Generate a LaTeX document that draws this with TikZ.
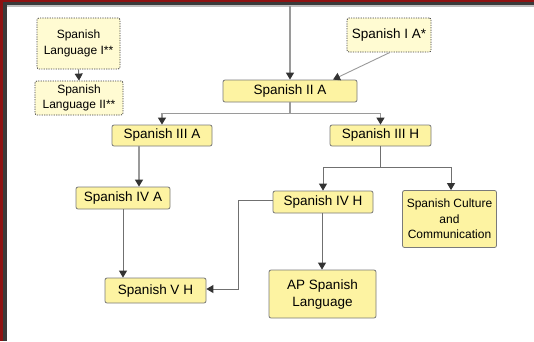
\documentclass[tikz,border=0pt]{standalone}
\usepackage{fontspec}
\setmainfont{Liberation Sans}
\usetikzlibrary{arrows.meta,calc}
\definecolor{frameRed}{HTML}{8E1212}
\definecolor{frameDark}{HTML}{3A3A3A}
\definecolor{boxFill}{HTML}{FDF3A2}
\definecolor{boxFillLight}{HTML}{FFFBD2}
\definecolor{boxEdge}{HTML}{7A7A7A}
\definecolor{lineGray}{HTML}{9A9A9A}
\definecolor{lineDark}{HTML}{707070}
\definecolor{tipDark}{HTML}{333333}
\tikzset{
  course/.style={draw=boxEdge, fill=boxFill, rounded corners=2pt, line width=0.8pt,
    inner sep=0pt, align=center, font=\fontsize{13.5}{17}\selectfont, text=black},
  optcourse/.style={course, fill=boxFillLight, draw=black!75, dash pattern=on 1.2pt off 1.2pt},
  smalltext/.style={font=\fontsize{12}{15.5}\selectfont},
  link/.style={draw=lineGray, line width=1.1pt, -{Triangle[length=7pt,width=8pt,color=tipDark]}},
  linkdark/.style={draw=lineDark, line width=0.9pt, -{Triangle[length=7pt,width=8pt,color=tipDark]}}
}
\begin{document}
\begin{tikzpicture}[x=1pt,y=-1pt]
\useasboundingbox (0,0) rectangle (534,341);
% frame
\fill[frameRed] (0,0) rectangle (534,341);
\fill[frameDark] (3,2) rectangle (534,341);
\fill[black!25] (7,5) rectangle (534,341);
\fill[white] (7,7) rectangle (534,341);
% nodes
\node[optcourse, smalltext, minimum width=83pt, minimum height=51pt] (l1) at (78.5,43.5) {Spanish\\Language I**};
\node[optcourse, smalltext, minimum width=88pt, minimum height=34pt] (l2) at (79,98) {Spanish\\Language II**};
\node[optcourse, minimum width=84pt, minimum height=34pt] (ia) at (389,35) {Spanish I A*};
\node[course, minimum width=134pt, minimum height=22pt] (iia) at (290,91) {Spanish II A};
\node[course, minimum width=100pt, minimum height=21pt] (iiia) at (162,135.5) {Spanish III A};
\node[course, minimum width=101pt, minimum height=21pt] (iiih) at (380.5,135.5) {Spanish III H};
\node[course, minimum width=94pt, minimum height=22pt] (iva) at (123,198) {Spanish IV A};
\node[course, minimum width=100pt, minimum height=22pt] (ivh) at (323,202) {Spanish IV H};
\node[course, smalltext, minimum width=94pt, minimum height=57pt] (cc) at (449.5,219) {Spanish Culture\\and\\Communication};
\node[course, minimum width=101pt, minimum height=25pt] (vh) at (155.5,290.5) {Spanish V H};
\node[course, minimum width=107pt, minimum height=48pt] (ap) at (322.5,294) {AP Spanish\\Language};
\coordinate (topin) at (290,6);
% connectors
\draw[link] (topin) -- (iia.north);
\draw[linkdark] (l1.south) -- (l2.north);
\draw[linkdark, draw=lineGray] ([xshift=1pt]ia.south) -- ([xshift=43pt]iia.north);
\draw[link] (iia.south) -- ++(0,11) -| (iiia.north);
\draw[link] (iia.south) -- ++(0,11) -| (iiih.north);
\draw[link] ([xshift=-23pt]iiia.south) -- ([xshift=16pt]iva.north);
\draw[linkdark] ([xshift=-32.5pt]vh.north |- iva.south) -- ([xshift=-32.5pt]vh.north);
\draw[linkdark] (iiih.south) -- ++(0,21) -| (ivh.north);
\draw[linkdark] (iiih.south) -- ++(0,21) -| ([xshift=1.5pt]cc.north);
\draw[linkdark] ([yshift=2pt]ivh.west) -- ++(-34,0) |- ([yshift=1.5pt]vh.east);
\draw[linkdark] ([xshift=-1pt]ivh.south) -- ([xshift=-0.5pt]ap.north);
\end{tikzpicture}
\end{document}
